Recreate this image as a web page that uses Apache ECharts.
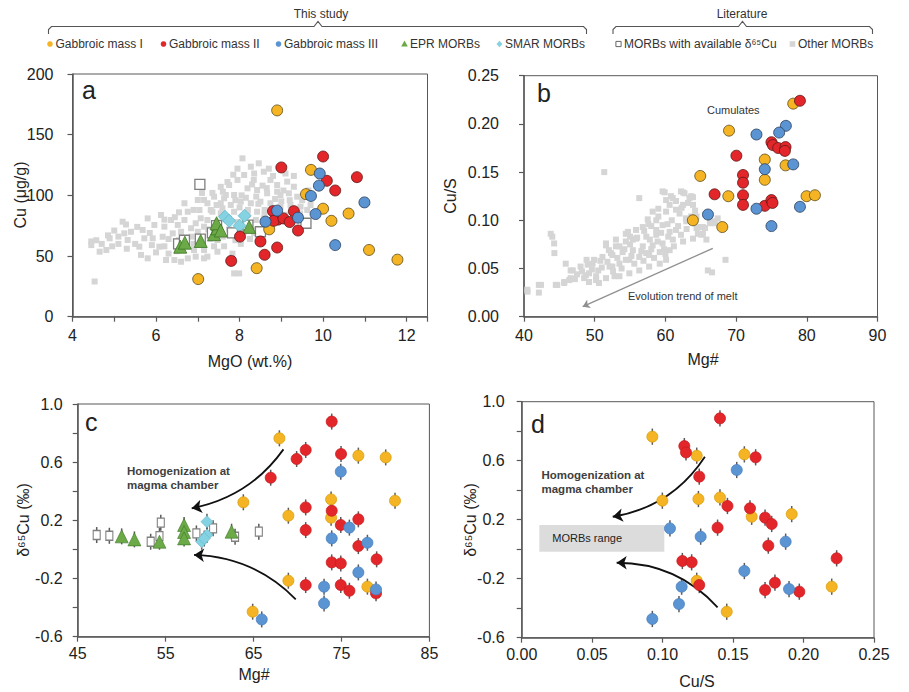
<!DOCTYPE html>
<html>
<head>
<meta charset="utf-8">
<script src="https://cdn.jsdelivr.net/npm/echarts@6/dist/echarts.min.js"></script>
<style>
  html, body { margin: 0; padding: 0; background: #fff; }
  #chart { width: 909px; height: 692px; }
</style>
</head>
<body>
<div id="chart"></div>
<script>
// ---- panel a : Cu (ug/g) vs MgO (wt.%) ----
const aMass1 = [[8.90,170],[9.71,121],[9.59,101],[10.0,89],[10.2,79],[10.61,85],[8.71,72],[8.41,40],[7.01,31],[11.1,55],[11.78,47]];
const aMass2 = [[10.0,132],[9.0,123],[10.09,112],[10.81,115],[10.29,104],[8.80,87],[8.92,80],[8.82,79],[9.05,81],[9.30,87],[9.2,78],[9.40,71],[8.01,66],[8.50,62],[8.6,51],[8.9,57],[7.80,46]];
const aMass3 = [[9.92,118],[9.9,108],[9.71,99.5],[9.82,84.6],[8.90,87.4],[9.40,81.6],[8.62,78.3],[10.99,94.2],[10.29,59]];
const aEpr = [[6.58,57.7],[6.69,61],[7.07,62.4],[7.39,68],[7.47,72.8],[7.45,77],[7.55,71],[8.23,74]];
const aSmar = [[7.65,82.4],[8.12,83.2],[8.0,75],[7.75,79]];
const aMorbCu = [[7.05,109],[6.54,60],[6.68,63],[7.06,64],[7.35,69],[7.45,75],[7.83,69],[8.2,75.5],[8.5,70],[9.59,77]];
const aOther = [
  [4.53,29],[4.45,59],[4.57,63],[4.85,67],[4.89,64.6],[4.65,53.6],[4.81,55],[4.45,62],[5.2,78.3],[5.24,68.7],
  [5.4,70],[5.32,63.2],[5.28,76],[5.68,71.5],[5.72,64.6],[5.6,57.7],[5.64,50.9],[5.80,48.1],[5.92,64.6],[5.96,75.6],
  [6.12,83.8],[6.2,74.2],[6.16,65.9],[6.08,57.7],[6.24,46.7],[6.44,46.7],[6.6,45.3],[6.76,48.1],[6.95,49.5],[7.15,48.1],
  [6.36,79.7],[6.40,68.7],[6.52,75.6],[6.68,93.5],[6.76,86.5],[6.68,79.7],[6.84,72.9],[7.0,96.2],[7.04,87.9],[7.07,81.1],
  [7.15,74.2],[7.23,93.5],[7.35,86.5],[7.39,98.9],[7.55,107],[7.63,97.6],[7.59,89.3],[7.71,111],[7.47,63.2],
  [8.07,130.5],[8.27,123.6],[8.46,126.4],[8.58,119.5],[8.11,116.8],[7.95,112.7],[7.75,108.5],[8.34,112.7],[8.74,112.7],[8.90,108.5],
  [9.14,111.3],[9.30,107.1],[9.18,101.7],[9.38,98.9],[8.98,100.3],[8.66,101.7],[8.42,104.4],[8.19,105.8],[7.87,100.3],[7.67,100.3],
  [7.55,93.5],[7.79,92.1],[8.03,94.8],[8.27,93.5],[8.50,94.8],[8.74,93.5],[8.98,90.7],[9.22,92.1],[9.46,90.7],[7.31,87.9],
  [7.55,85.2],[7.87,86.5],[8.19,83.8],[8.42,86.5],[7.47,78.3],[7.23,79.7],[8.39,79.7],[8.58,81.1],[8.39,71.5],[8.50,65.9],
  [7.15,96.2],[7.99,35.7],[7.87,35.7],[7.15,55],[7.39,58],[7.63,58],[8.03,60],[8.35,69],[7.83,52],[6.91,55],
  [7.23,49.5],[7.47,53.6],[6.2,58],[6.3,52],[6.5,54],[6.0,53],[5.5,60],[5.1,66],[5.0,71],[5.85,69],
  [6.55,63],[6.85,66],[6.9,60],[7.0,70],[7.3,64],[7.6,66],[7.75,72],[7.95,78],[8.1,70],[8.25,64],
  [7.9,63],[8.6,88],[8.85,97],[9.05,104],[9.5,96],[9.62,88],[9.1,84],[8.8,86],[9.3,116],[9.1,118],
  [8.35,118],[8.55,108],[8.05,100],[7.85,117],[8.7,122],[9.0,95],[7.35,102],[7.1,102],[6.9,88],[6.55,86],
  [6.45,82],[6.2,80],[5.8,81],[5.55,74],[5.3,56],[5.1,60],[4.95,58],[4.7,60],[9.45,85],[9.7,92],[9.65,104],[9.2,96],
  [7.45,92],[7.9,96],[8.15,98],[8.4,99],[8.65,106],[8.9,103],[8.2,88],[8.0,90],[7.7,82],[8.6,84],
  [7.6,103],[8.3,109],[8.8,116],[7.95,122],[6.95,77],[7.25,72],[6.6,70],[6.3,64],[5.9,59],[8.45,93]
];

// ---- panel b : Cu/S vs Mg# ----
const bMass1 = [[78.08,0.221],[69.0,0.193],[64.93,0.146],[74.06,0.163],[74.06,0.142],[77.0,0.157],[68.9,0.125],[79.97,0.125],[81.15,0.126],[63.89,0.100],[68.05,0.093]];
const bMass2 = [[79.03,0.224],[75.0,0.181],[75.2,0.178],[75.95,0.175],[76.99,0.176],[76.9,0.172],[70.04,0.167],[70.98,0.147],[70.98,0.139],[70.98,0.126],[70.98,0.116],[66.96,0.127],[74.06,0.115],[75.0,0.121],[75.15,0.118]];
const bMass3 = [[77.04,0.198],[76.09,0.191],[72.88,0.189],[78.08,0.158],[74.06,0.153],[72.88,0.112],[75.0,0.094],[79.03,0.114],[66.02,0.106]];
const bOther = [
  [40.47,0.028],[42.1,0.033],[42.1,0.025],[42.4,0.033],[40.5,0.026],[43.78,0.086],[44.0,0.083],[44.26,0.076],[44.3,0.066],[44.5,0.033],
  [44.7,0.033],[45.7,0.036],[45.68,0.035],[45.9,0.055],[46.4,0.038],[46.6,0.048],[46.6,0.040],[46.9,0.048],[48.0,0.052],[48.5,0.040],
  [48.75,0.043],[48.85,0.059],[49.0,0.054],[49.2,0.045],[49.2,0.036],[49.7,0.055],[49.9,0.059],[50.2,0.038],[50.2,0.042],[50.6,0.035],
  [51.1,0.062],[51.35,0.150],[51.6,0.074],[51.6,0.040],[51.6,0.076],[52.1,0.052],[52.3,0.066],[52.5,0.052],[52.5,0.064],[52.8,0.042],
  [53.0,0.073],[53.5,0.073],[53.5,0.042],[53.5,0.055],[53.95,0.067],[54.4,0.086],[54.4,0.059],[54.4,0.078],[54.7,0.088],[54.9,0.045],
  [54.9,0.059],[55.4,0.080],[55.4,0.069],[55.85,0.081],[55.85,0.090],[56.3,0.123],[56.3,0.048],[56.3,0.062],[56.8,0.093],[56.8,0.073],
  [57.3,0.066],[57.3,0.083],[57.5,0.101],[57.7,0.052],[57.7,0.064],[58.2,0.109],[58.2,0.074],[58.7,0.090],[58.7,0.100],[58.7,0.085],
  [59.2,0.055],[59.2,0.067],[59.6,0.130],[59.6,0.095],[59.6,0.076],[59.9,0.129],[60.1,0.121],[60.1,0.109],[60.1,0.059],[60.6,0.088],
  [60.6,0.069],[60.8,0.125],[61.05,0.123],[61.05,0.080],[61.5,0.111],[61.5,0.090],[62.0,0.107],[62.2,0.130],[62.5,0.129],[62.5,0.116],
  [62.5,0.078],[62.7,0.128],[62.9,0.102],[62.95,0.099],[63.4,0.123],[63.65,0.125],[63.65,0.104],[63.9,0.116],[63.9,0.124],[63.9,0.081],
  [64.4,0.092],[64.4,0.104],[64.8,0.093],[65.1,0.085],[65.3,0.086],[65.3,0.093],[65.8,0.080],[66.0,0.048],[66.3,0.102],[66.3,0.097],
  [66.6,0.046],[67.0,0.097],[67.4,0.102],[68.5,0.059],[50.5,0.048],[51.0,0.051],[51.8,0.057],[52.6,0.047],[53.2,0.061],[53.8,0.050],
  [54.2,0.070],[55.0,0.075],[55.2,0.063],[55.6,0.055],[56.0,0.082],[56.6,0.068],[56.9,0.058],[57.0,0.089],[57.8,0.080],[58.0,0.094],
  [58.4,0.061],[58.9,0.078],[59.0,0.104],[59.4,0.087],[59.8,0.070],[60.3,0.096],[60.4,0.083],[60.9,0.100],[61.2,0.073],[61.8,0.094],
  [62.2,0.085],[62.3,0.113],[63.0,0.091],[63.2,0.118],[61.5,0.120],[60.6,0.116],[59.0,0.112],[57.6,0.096],[55.0,0.083],[53.0,0.080],
  [52.0,0.069],[50.8,0.058],[49.6,0.049],[48.2,0.047],[47.5,0.044],[47.2,0.039],[64.2,0.110],[65.6,0.092],[66.8,0.099],[64.6,0.086],
  [60.0,0.065],[58.0,0.070]
];

// ---- panel c : d65Cu vs Mg# ----
const cMass1 = [[67.94,0.764],[76.92,0.645],[80.03,0.633],[63.84,0.324],[73.82,0.344],[73.82,0.218],[81.09,0.335],[68.96,0.232],[68.96,-0.215],[77.95,-0.256],[64.9,-0.428]];
const cMass2 = [[73.89,0.879],[70.93,0.684],[69.9,0.622],[74.95,0.656],[66.95,0.493],[70.93,0.289],[73.89,0.266],[76.92,0.207],[74.92,0.168],[70.93,0.133],[76.92,0.023],[73.89,-0.089],[74.92,-0.096],[79.0,-0.068],[70.93,-0.245],[74.92,-0.245],[75.9,-0.284],[78.93,-0.302]];
const cMass3 = [[74.92,0.535],[75.9,0.150],[73.89,0.076],[77.95,0.046],[76.92,-0.158],[73.02,-0.256],[78.93,-0.275],[73.02,-0.371],[65.93,-0.481]];
const cEpr = [[50.0,0.090],[51.45,0.069],[54.3,0.053],[57.1,0.168],[57.1,0.12],[57.1,0.076],[62.5,0.122]];
const cSmar = [[59.7,0.191],[59.7,0.099],[59.1,0.053],[59.4,0.075]];
const cMorbCu = [[47.16,0.099],[48.6,0.094],[53.3,0.053],[54.45,0.184],[54.3,0.092],[58.5,0.11],[60.4,0.145],[62.9,0.087],[65.6,0.122]];

// ---- panel d : d65Cu vs Cu/S ----
const dMass1 = [[0.0927,0.763],[0.1242,0.634],[0.158,0.643],[0.0998,0.329],[0.1254,0.340],[0.1407,0.351],[0.1632,0.220],[0.1916,0.238],[0.1242,-0.214],[0.1455,-0.424],[0.22,-0.254]];
const dMass2 = [[0.1407,0.887],[0.1154,0.699],[0.1166,0.656],[0.166,0.623],[0.126,0.492],[0.146,0.293],[0.162,0.277],[0.1727,0.214],[0.1774,0.171],[0.139,0.146],[0.175,0.024],[0.2235,-0.062],[0.114,-0.080],[0.1206,-0.089],[0.126,-0.243],[0.1797,-0.227],[0.1727,-0.277],[0.197,-0.288]];
const dMass3 = [[0.1526,0.537],[0.1052,0.141],[0.127,0.085],[0.1873,0.051],[0.158,-0.148],[0.1135,-0.254],[0.1897,-0.270],[0.1116,-0.372],[0.0927,-0.473]];
const morbRange = [[0.0125, 0.164], [0.1012, -0.017]];

// error bar half length on d65Cu
const ERR = 0.055;

// annotation arrows [from, to, curveness]
const arrowsC = [[[68.4, 0.688], [57.97, 0.283], 0.2], [[69.8, -0.343], [58.23, -0.038], -0.2]];
const arrowsD = [[[0.130, 0.627], [0.0646, 0.220], 0.22], [[0.139, -0.394], [0.0674, -0.092], -0.22]];
const arrowB = [[66.7, 0.0709], [48.3, 0.0104]];

const FONT = "'Liberation Sans', Arial, sans-serif";
const C_Y = '#F4B423', C_R = '#E3262A', C_B = '#5B94D3', C_G = '#6BAA47', C_D = '#84D2E2', C_GR = '#D5D5D5';
const AX = '#595959';

const chart = echarts.init(document.getElementById('chart'), null, { renderer: 'svg' });

function axis(gi, min, max, interval, fmt, margin) {
    return {
        type: 'value', gridIndex: gi, min: min, max: max, interval: interval,
        axisLine: { show: true, onZero: false, lineStyle: { color: AX, width: 1.5 } },
        axisTick: { show: true, length: 5, lineStyle: { color: AX, width: 1.2 } },
        splitLine: { show: false },
        axisLabel: { fontSize: 16, color: '#222', fontFamily: FONT, margin: margin, formatter: fmt, showMaxLabel: true }
    };
}
const halfFmt = v => { const k = Math.round((v + 0.6) / 0.2); return k % 2 === 0 ? v.toFixed(1) : ''; };

function circles(data, color, gi, size, border) {
    return {
        type: 'scatter', xAxisIndex: gi, yAxisIndex: gi, data: data, symbol: 'circle', symbolSize: size, z: 5,
        itemStyle: { color: color, borderColor: border, borderWidth: 0.8, opacity: 1 }
    };
}
function errBars(gi, data) {
    return {
        type: 'custom', xAxisIndex: gi, yAxisIndex: gi, data: data, silent: true, z: 1,
        renderItem: (params, api) => {
            const x = api.value(0), y = api.value(1);
            const p1 = api.coord([x, y - ERR]);
            const p2 = api.coord([x, y + ERR]);
            return { type: 'line', shape: { x1: p1[0], y1: p1[1], x2: p2[0], y2: p2[1] }, style: { stroke: '#5a5a5a', lineWidth: 1.5 } };
        }
    };
}
function arrows(gi, list) {
    return {
        type: 'lines', coordinateSystem: 'cartesian2d', xAxisIndex: gi, yAxisIndex: gi, silent: true, z: 3,
        symbol: ['none', 'arrow'], symbolSize: 10,
        lineStyle: { color: '#111', width: 1.8, opacity: 1 },
        data: list.map(a => ({ coords: [a[0], a[1]], lineStyle: { curveness: a[2], color: '#111', opacity: 1 } }))
    };
}

// legend and brackets drawn as graphics
const legendItems = [
    { x: 50, shape: 'circle', color: C_Y, text: 'Gabbroic mass I' },
    { x: 163.5, shape: 'circle', color: C_R, text: 'Gabbroic mass II' },
    { x: 278.5, shape: 'circle', color: C_B, text: 'Gabbroic mass III' },
    { x: 404.5, shape: 'triangle', color: C_G, text: 'EPR MORBs' },
    { x: 499.5, shape: 'diamond', color: C_D, text: 'SMAR MORBs' },
    { x: 618.5, shape: 'square', color: '#fff', text: 'MORBs with available δ⁶⁵Cu' },
    { x: 792.5, shape: 'gsquare', color: C_GR, text: 'Other MORBs' }
];
const LY = 44;
const graphics = [];
legendItems.forEach(it => {
    if (it.shape === 'circle') {
        graphics.push({ type: 'circle', shape: { cx: it.x, cy: LY, r: 2.8 }, style: { fill: it.color } });
    } else if (it.shape === 'triangle') {
        graphics.push({ type: 'polygon', shape: { points: [[it.x, LY - 3.5], [it.x - 3.3, LY + 2.5], [it.x + 3.3, LY + 2.5]] }, style: { fill: it.color } });
    } else if (it.shape === 'diamond') {
        graphics.push({ type: 'polygon', shape: { points: [[it.x, LY - 3.3], [it.x + 3, LY], [it.x, LY + 3.3], [it.x - 3, LY]] }, style: { fill: it.color } });
    } else if (it.shape === 'square') {
        graphics.push({ type: 'rect', shape: { x: it.x - 2.6, y: LY - 2.6, width: 5.2, height: 5.2 }, style: { fill: '#fff', stroke: '#666', lineWidth: 1 } });
    } else {
        graphics.push({ type: 'rect', shape: { x: it.x - 2.8, y: LY - 2.8, width: 5.6, height: 5.6 }, style: { fill: it.color } });
    }
    graphics.push({ type: 'text', x: it.x + 5.5, y: LY, style: { text: it.text, fontSize: 12, fontFamily: FONT, fill: '#333', align: 'left', verticalAlign: 'middle' } });
});
function bracket(x1, x2, xc) {
    return [[x1, 34], [x1, 29.5], [x1 + 3, 26.5], [xc - 4, 26.5], [xc, 21.5], [xc + 4, 26.5], [x2 - 3, 26.5], [x2, 29.5], [x2, 34]];
}
graphics.push({ type: 'polyline', shape: { points: bracket(48.5, 586.5, 318) }, style: { fill: null, stroke: '#555', lineWidth: 1.1 } });
graphics.push({ type: 'polyline', shape: { points: bracket(613, 872.5, 742.5) }, style: { fill: null, stroke: '#555', lineWidth: 1.1 } });
function txt(x, y, text, size, opts) {
    return Object.assign({ type: 'text', x: x, y: y, style: Object.assign({ text: text, fontSize: size, fontFamily: FONT, fill: '#222', align: 'center', verticalAlign: 'middle' }, (opts && opts.style) || {}) }, (opts && opts.el) || {});
}
graphics.push(txt(321, 14, 'This study', 12, { style: { fill: '#333' } }));
graphics.push(txt(742, 13.5, 'Literature', 12, { style: { fill: '#333' } }));
// panel letters
graphics.push(txt(82, 89.5, 'a', 25, { style: { align: 'left' } }));
graphics.push(txt(537, 93, 'b', 25, { style: { align: 'left' } }));
graphics.push(txt(85, 422, 'c', 25, { style: { align: 'left' } }));
graphics.push(txt(531, 424, 'd', 25, { style: { align: 'left' } }));
// axis names
const rot = { el: { rotation: Math.PI / 2 } };
graphics.push(txt(20, 195, 'Cu (μg/g)', 16, rot));
graphics.push(txt(250, 361, 'MgO (wt.%)', 16));
graphics.push(txt(450, 196, 'Cu/S', 16, rot));
graphics.push(txt(703, 359, 'Mg#', 16));
graphics.push(txt(23, 520, 'δ⁶⁵Cu (‰)', 16, rot));
graphics.push(txt(254, 674, 'Mg#', 16));
graphics.push(txt(470, 520, 'δ⁶⁵Cu (‰)', 16, rot));
graphics.push(txt(697, 681, 'Cu/S', 16));
// annotations
graphics.push(txt(707, 110, 'Cumulates', 11, { style: { align: 'left', fill: '#333' } }));
graphics.push(txt(628, 296, 'Evolution trend of melt', 11, { style: { align: 'left', fill: '#333' } }));
graphics.push(txt(127, 478, 'Homogenization at\nmagma chamber', 11.5, { style: { align: 'left', fill: '#404040', fontWeight: 'bold', lineHeight: 14.5 } }));
graphics.push(txt(541.5, 482, 'Homogenization at\nmagma chamber', 11.5, { style: { align: 'left', fill: '#404040', fontWeight: 'bold', lineHeight: 14.5 } }));

const option = {
    animation: false,
    backgroundColor: '#fff',
    textStyle: { fontFamily: FONT },
    grid: [
        { left: 72.5, top: 74, width: 355, height: 242.7, show: true, borderColor: AX, borderWidth: 1, outerBoundsMode: 'none' },
        { left: 524, top: 75.7, width: 353.5, height: 241, show: true, borderColor: AX, borderWidth: 1, outerBoundsMode: 'none' },
        { left: 77.7, top: 404, width: 351.7, height: 232.7, show: true, borderColor: AX, borderWidth: 1, outerBoundsMode: 'none' },
        { left: 521.7, top: 401.7, width: 352.3, height: 236, show: true, borderColor: AX, borderWidth: 1, outerBoundsMode: 'none' }
    ],
    xAxis: [
        axis(0, 4, 12.5, 1, v => (v % 2 === 0 ? String(v) : ''), 11),
        axis(1, 40, 90, 10, v => String(v), 11),
        axis(2, 45, 85, 10, v => String(v), 9),
        axis(3, 0, 0.25, 0.05, v => v.toFixed(2), 9)
    ],
    yAxis: [
        axis(0, 0, 200, 50, v => String(v), 19),
        axis(1, 0, 0.25, 0.05, v => v.toFixed(2), 25),
        axis(2, -0.6, 1.0, 0.2, halfFmt, 15),
        axis(3, -0.6, 1.0, 0.2, halfFmt, 17)
    ],
    graphic: graphics,
    series: [
        // panel a
        { type: 'scatter', xAxisIndex: 0, yAxisIndex: 0, data: aOther, symbol: 'rect', symbolSize: 6, z: 2, itemStyle: { color: C_GR, opacity: 1 } },
        { type: 'scatter', xAxisIndex: 0, yAxisIndex: 0, data: aMorbCu, symbol: 'rect', symbolSize: 10, z: 3, itemStyle: { color: '#fff', borderColor: '#7f7f7f', borderWidth: 1.3, opacity: 1 } },
        { type: 'scatter', xAxisIndex: 0, yAxisIndex: 0, data: aEpr, symbol: 'triangle', symbolSize: 13, z: 4, itemStyle: { color: C_G, borderColor: '#3d7526', borderWidth: 0.8, opacity: 1 } },
        { type: 'scatter', xAxisIndex: 0, yAxisIndex: 0, data: aSmar, symbol: 'diamond', symbolSize: 13, z: 4, itemStyle: { color: C_D, borderColor: '#63b7ca', borderWidth: 0.8, opacity: 1 } },
        circles(aMass1, C_Y, 0, 11, '#5a4a1a'),
        circles(aMass2, C_R, 0, 11, '#5a1a1a'),
        circles(aMass3, C_B, 0, 11, '#2a3f5a'),
        // panel b
        { type: 'scatter', xAxisIndex: 1, yAxisIndex: 1, data: bOther, symbol: 'rect', symbolSize: 6, z: 2, itemStyle: { color: C_GR, opacity: 1 } },
        circles(bMass1, C_Y, 1, 11, '#5a4a1a'),
        circles(bMass2, C_R, 1, 11, '#5a1a1a'),
        circles(bMass3, C_B, 1, 11, '#2a3f5a'),
        {
            type: 'lines', coordinateSystem: 'cartesian2d', xAxisIndex: 1, yAxisIndex: 1, silent: true, z: 3,
            symbol: ['none', 'arrow'], symbolSize: 7, lineStyle: { color: '#8f8f8f', width: 1.3, opacity: 1 },
            data: [{ coords: arrowB }]
        },
        // panel c
        errBars(2, cMorbCu.concat(cEpr, cSmar, cMass1, cMass2, cMass3)),
        { type: 'scatter', xAxisIndex: 2, yAxisIndex: 2, data: cMorbCu, symbol: 'rect', symbolSize: [7, 9], z: 3, itemStyle: { color: '#fff', borderColor: '#7f7f7f', borderWidth: 1.2, opacity: 1 } },
        { type: 'scatter', xAxisIndex: 2, yAxisIndex: 2, data: cEpr, symbol: 'triangle', symbolSize: 13, z: 4, itemStyle: { color: C_G, borderColor: '#3d7526', borderWidth: 0.6, opacity: 1 } },
        { type: 'scatter', xAxisIndex: 2, yAxisIndex: 2, data: cSmar, symbol: 'diamond', symbolSize: 12, z: 4, itemStyle: { color: C_D, borderColor: '#63b7ca', borderWidth: 0.6, opacity: 1 } },
        circles(cMass1, C_Y, 2, 11, '#d9a010'),
        circles(cMass2, C_R, 2, 11, '#c81e22'),
        circles(cMass3, C_B, 2, 11, '#4a80bf'),
        arrows(2, arrowsC),
        // panel d
        errBars(3, dMass1.concat(dMass2, dMass3)),
        Object.assign(circles(dMass1, C_Y, 3, 11, '#d9a010'), {
            markArea: {
                silent: true,
                itemStyle: { color: '#DCDCDC' },
                label: { show: true, position: 'insideLeft', distance: 13, color: '#222', fontSize: 11, fontFamily: FONT },
                data: [[{ name: 'MORBs range', coord: morbRange[0] }, { coord: morbRange[1] }]]
            }
        }),
        circles(dMass2, C_R, 3, 11, '#c81e22'),
        circles(dMass3, C_B, 3, 11, '#4a80bf'),
        arrows(3, arrowsD)
    ]
};
chart.setOption(option);
</script>
</body>
</html>
